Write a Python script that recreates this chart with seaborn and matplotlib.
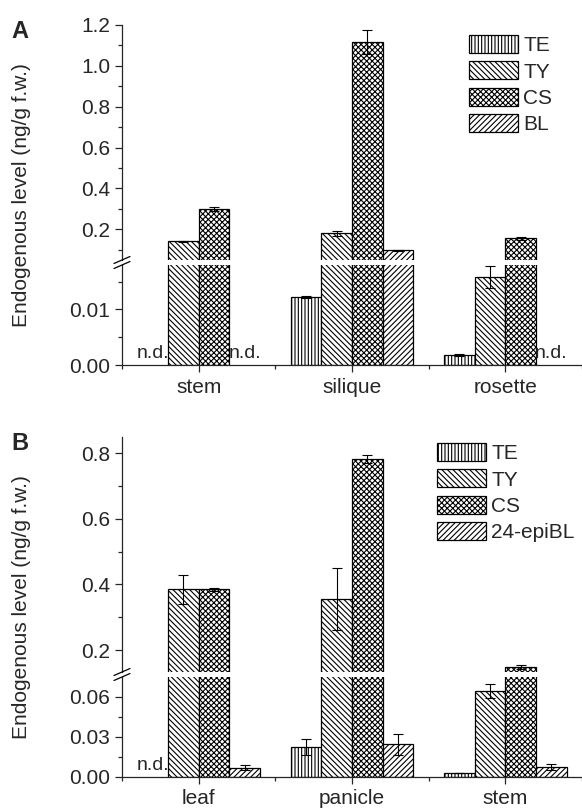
import numpy as np
import pandas as pd
import matplotlib
matplotlib.use("Agg")
import matplotlib.pyplot as plt
import matplotlib.patches as mpatches
from matplotlib.container import BarContainer
from matplotlib.ticker import FixedLocator, FormatStrFormatter
import seaborn as sns

# ---------------- data ----------------
tissues_a = ["stem", "silique", "rosette"]
compounds_a = ["TE", "TY", "CS", "BL"]
# None = n.d.
te_a = [None, 0.0122, 0.0018]
ty_a = [0.141, 0.180, 0.0158]
cs_a = [0.298, 1.117, 0.156]
bl_a = [None, 0.098, None]
te_a_err = [0, 0.0002, 0.0001]
ty_a_err = [0.004, 0.012, 0.002]
cs_a_err = [0.010, 0.060, 0.008]
bl_a_err = [0, 0.003, 0]

tissues_b = ["leaf", "panicle", "stem"]
compounds_b = ["TE", "TY", "CS", "24-epiBL"]
te_b = [None, 0.0225, 0.003]
ty_b = [0.385, 0.355, 0.0645]
cs_b = [0.385, 0.782, 0.148]
bl_b = [0.0070, 0.0245, 0.0075]
te_b_err = [0, 0.006, 0.0003]
ty_b_err = [0.045, 0.095, 0.005]
cs_b_err = [0.005, 0.012, 0.005]
bl_b_err = [0.002, 0.008, 0.002]

hatches = ["|||||", "\\" * 6, "xxxxxx", "//////"]

# ---------------- style ----------------
sns.set_style("ticks")
plt.rcParams["font.family"] = ["Liberation Sans", "DejaVu Sans"]
plt.rcParams["hatch.linewidth"] = 0.8
plt.rcParams["axes.linewidth"] = 0.9
FS = 15

W, H = 582, 808
fig = plt.figure(figsize=(W / 100, H / 100), dpi=100)


def fx(px):
    return px / W


def fy(px):
    return 1 - px / H


left = fx(122)
width = 1 - left


def make_df(tissues, compounds, series):
    rows = []
    for comp, vals in zip(compounds, series):
        for t, v in zip(tissues, vals):
            rows.append({"tissue": t, "compound": comp,
                         "value": 0.0 if v is None else v})
    return pd.DataFrame(rows)


def draw_panel(top_px, split_px, gap_px, bottom_px, tissues, compounds,
               series, errs, up_lim, low_lim, up_major, up_minor, up_fmt,
               low_major, low_minor, low_fmt, letter, legend_xy):
    ax_up = fig.add_axes([left, fy(split_px), width, fy(top_px) - fy(split_px)])
    ax_lo = fig.add_axes([left, fy(bottom_px), width,
                          fy(split_px + gap_px) - fy(bottom_px)])
    df = make_df(tissues, compounds, series)
    pal = {c: "white" for c in compounds}
    for ax in (ax_up, ax_lo):
        sns.barplot(data=df, x="tissue", y="value", hue="compound",
                    order=tissues, hue_order=compounds, palette=pal,
                    edgecolor="black", linewidth=0.9, errorbar=None,
                    saturation=1, legend=False, ax=ax)
        bars = [c for c in ax.containers if isinstance(c, BarContainer)]
        for ci, cont in enumerate(bars):
            for ti, p in enumerate(cont.patches):
                p.set_hatch(hatches[ci])
                xc = p.get_x() + p.get_width() / 2
                if series[ci][ti] is None:
                    p.set_visible(False)
                    if ax is ax_lo:
                        ax.annotate("n.d.", (xc, 0), xytext=(0, 5),
                                    textcoords="offset points", ha="center",
                                    va="baseline", fontsize=14)
                elif errs[ci][ti] > 0:
                    ax.errorbar(xc, p.get_height(), yerr=errs[ci][ti],
                                fmt="none", ecolor="black", elinewidth=0.8,
                                capsize=3.6, capthick=0.8)
        ax.set_xlim(-0.5, 2.5)
        ax.set_xlabel("")
        ax.set_ylabel("")
        ax.spines["right"].set_visible(False)
        ax.spines["top"].set_visible(False)
        ax.tick_params(axis="y", which="major", length=5, width=0.9,
                       labelsize=FS, pad=3.5, direction="out")
        ax.tick_params(axis="y", which="minor", length=3, width=0.9,
                       direction="out")
    ax_up.set_ylim(*up_lim)
    ax_lo.set_ylim(*low_lim)
    ax_up.spines["bottom"].set_visible(False)
    ax_up.tick_params(axis="x", which="both", bottom=False, labelbottom=False)
    ax_up.yaxis.set_major_locator(FixedLocator(up_major))
    ax_up.yaxis.set_minor_locator(FixedLocator(up_minor))
    ax_up.yaxis.set_major_formatter(FormatStrFormatter(up_fmt))
    ax_lo.yaxis.set_major_locator(FixedLocator(low_major))
    ax_lo.yaxis.set_minor_locator(FixedLocator(low_minor))
    ax_lo.yaxis.set_major_formatter(FormatStrFormatter(low_fmt))
    ax_lo.xaxis.set_minor_locator(FixedLocator([-0.5, 0.5, 1.5, 2.5]))
    ax_lo.tick_params(axis="x", which="major", length=5, width=0.9,
                      labelsize=FS, pad=4, direction="out")
    ax_lo.tick_params(axis="x", which="minor", length=3, width=0.9,
                      direction="out")

    # break marks
    for ypx in (split_px, split_px + gap_px):
        fig.add_artist(plt.Line2D([fx(114), fx(130)],
                                  [fy(ypx + 3.5), fy(ypx - 3.5)],
                                  color="black", lw=0.9,
                                  transform=fig.transFigure))

    # y label
    fig.text(fx(22), fy((top_px + bottom_px) / 2),
             "Endogenous level (ng/g f.w.)", rotation=90,
             ha="center", va="center", fontsize=FS)
    fig.text(fx(11), fy(top_px - 5), letter, fontsize=17, weight="bold",
             ha="left", va="top")

    handles = [mpatches.Patch(facecolor="white", edgecolor="black",
                              linewidth=0.9, hatch=h, label=c)
               for h, c in zip(hatches, compounds)]
    ax_up.legend(handles=handles, loc="upper left",
                 bbox_to_anchor=(fx(legend_xy[0]), fy(legend_xy[1])),
                 bbox_transform=fig.transFigure, frameon=False,
                 fontsize=FS, handlelength=2.35, handleheight=0.95,
                 handletextpad=0.25, labelspacing=0.3, borderpad=0,
                 borderaxespad=0)
    return ax_up, ax_lo


draw_panel(25, 260, 5, 365, tissues_a, compounds_a,
           [te_a, ty_a, cs_a, bl_a], [te_a_err, ty_a_err, cs_a_err, bl_a_err],
           (0.05, 1.2), (0, 0.018),
           [0.2, 0.4, 0.6, 0.8, 1.0, 1.2], [0.1, 0.3, 0.5, 0.7, 0.9, 1.1], "%.1f",
           [0.0, 0.01], [0.005, 0.015], "%.2f", "A", (469, 35))

draw_panel(437, 672, 5, 777, tissues_b, compounds_b,
           [te_b, ty_b, cs_b, bl_b], [te_b_err, ty_b_err, cs_b_err, bl_b_err],
           (0.133, 0.85), (0, 0.075),
           [0.2, 0.4, 0.6, 0.8], [0.3, 0.5, 0.7], "%.1f",
           [0.0, 0.03, 0.06], [0.015, 0.045], "%.2f", "B", (437, 443))

fig.savefig("out.png", dpi=100)
